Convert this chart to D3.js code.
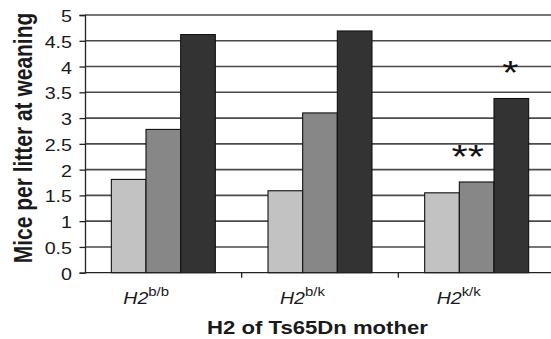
<!DOCTYPE html>
<html>
<head>
<meta charset="utf-8">
<script src="https://cdn.jsdelivr.net/npm/d3@7"></script>
<style>
  body { margin: 0; background: #fff; }
  svg { display: block; font-family: "Liberation Sans", Arial, sans-serif; }
</style>
</head>
<body>
<div id="chart"></div>
<script>
  // data
  const categories = ["b/b", "b/k", "k/k"];   // H2 haplotype of the mother (superscript)
  const series = ["light", "medium", "dark"];
  const lightValues = [1.81, 1.59, 1.55];
  const mediumValues = [2.78, 3.10, 1.76];
  const darkValues = [4.62, 4.69, 3.38];
  const yTickValues = [0, 0.5, 1, 1.5, 2, 2.5, 3, 3.5, 4, 4.5, 5];
  const yTickLabels = ["0", "0.5", "1", "1.5", "2", "2.5", "3", "3.5", "4", "4.5", "5"];
  const stars = [
    { cat: "k/k", series: "medium", label: "**" },
    { cat: "k/k", series: "dark", label: "*" }
  ];

  const seriesValues = { light: lightValues, medium: mediumValues, dark: darkValues };
  const colors = { light: "#c2c2c2", medium: "#878787", dark: "#333333" };

  let width = 551, height = 339;
  let plot = { left: 85, right: 555, top: 15, bottom: 272.7 };
  let stretch = 1.23; // text in the picture is a bit wider than tall

  let rows = [];
  categories.forEach((c, i) => {
    series.forEach(s => rows.push({ cat: c, series: s, value: seriesValues[s][i] }));
  });

  let svg = d3.select('#chart')
    .append('svg')
    .attr('width', width)
    .attr('height', height);

  let x0 = d3.scaleBand()
    .domain(categories)
    .range([plot.left, plot.right])
    .padding(0);

  let x1 = d3.scaleBand()
    .domain(series)
    .range([0, x0.bandwidth()])
    .paddingInner(0)
    .paddingOuter(0.76);

  let y = d3.scaleLinear()
    .domain([0, 5])
    .range([plot.bottom, plot.top]);

  // gridlines
  svg.append('g')
    .selectAll('line')
    .data(yTickValues.filter(v => v > 0))
    .enter()
    .append('line')
    .attr('x1', plot.left)
    .attr('x2', plot.right)
    .attr('y1', d => y(d))
    .attr('y2', d => y(d))
    .style('stroke', '#4a4a4a')
    .style('stroke-width', 1.6);

  // bars
  svg.append('g')
    .selectAll('rect')
    .data(rows)
    .enter()
    .append('rect')
    .attr('x', d => x0(d.cat) + x1(d.series))
    .attr('y', d => y(d.value))
    .attr('width', x1.bandwidth())
    .attr('height', d => y(0) - y(d.value))
    .style('fill', d => colors[d.series])
    .style('stroke', '#111')
    .style('stroke-width', 1.1);

  // y axis (lines only, labels drawn below)
  let yAxis = svg.append('g')
    .attr('transform', 'translate(' + plot.left + ',0)')
    .call(d3.axisLeft(y).tickValues(yTickValues).tickSize(5.5).tickFormat(''));
  yAxis.select('.domain').attr('stroke', '#222').attr('stroke-width', 1.3);
  yAxis.selectAll('.tick line').attr('stroke', '#222').attr('stroke-width', 1.3);

  yTickValues.forEach((v, i) => {
    svg.append('text')
      .attr('transform', 'translate(72,' + (y(v) + 1.5) + ') scale(' + stretch + ',1)')
      .attr('text-anchor', 'end')
      .attr('dy', '0.35em')
      .style('font-size', '16px')
      .style('fill', '#1a1a1a')
      .text(yTickLabels[i]);
  });

  // x axis with separator ticks between groups
  let xAxis = svg.append('g')
    .attr('transform', 'translate(0,' + plot.bottom + ')');
  xAxis.append('line')
    .attr('x1', plot.left).attr('x2', plot.right)
    .attr('stroke', '#222').attr('stroke-width', 1.3);
  xAxis.selectAll('.sep')
    .data(categories.slice(1))
    .enter()
    .append('line')
    .attr('class', 'sep')
    .attr('x1', d => x0(d)).attr('x2', d => x0(d))
    .attr('y1', 0).attr('y2', 5)
    .attr('stroke', '#222').attr('stroke-width', 1.3);

  // category labels: italic H2 with superscript genotype
  categories.forEach(c => {
    let t = svg.append('text')
      .attr('transform', 'translate(' + (x0(c) + x0.bandwidth() / 2 - 40) + ',304) scale(1.15,1)')
      .style('fill', '#1a1a1a');
    t.append('tspan')
      .style('font-size', '17px')
      .style('font-style', 'italic')
      .text('H2');
    t.append('tspan')
      .attr('dy', -8)
      .style('font-size', '13px')
      .text(c);
  });

  // significance stars
  svg.append('g')
    .selectAll('text')
    .data(stars)
    .enter()
    .append('text')
    .attr('transform', d => {
      let cx = x0(d.cat) + x1(d.series) + x1.bandwidth() / 2;
      let row = rows.find(r => r.cat === d.cat && r.series === d.series);
      let dx = d.label.length > 1 ? -9 : -1;
      return 'translate(' + (cx + dx) + ',' + (y(row.value) - 14) + ') scale(' + stretch + ',1)';
    })
    .attr('text-anchor', 'middle')
    .style('font-size', '34px')
    .style('fill', '#111')
    .text(d => d.label);

  // axis titles
  svg.append('text')
    .attr('transform', 'translate(317.5,333.5) scale(' + stretch + ',1)')
    .attr('text-anchor', 'middle')
    .style('font-size', '18px')
    .style('font-weight', 'bold')
    .style('fill', '#1a1a1a')
    .text('H2 of Ts65Dn mother');

  svg.append('text')
    .attr('transform', 'translate(31.5,138) scale(' + stretch + ',1) rotate(-90)')
    .attr('text-anchor', 'middle')
    .style('font-size', '21px')
    .style('font-weight', 'bold')
    .style('fill', '#1a1a1a')
    .text('Mice per litter at weaning');
</script>
</body>
</html>
